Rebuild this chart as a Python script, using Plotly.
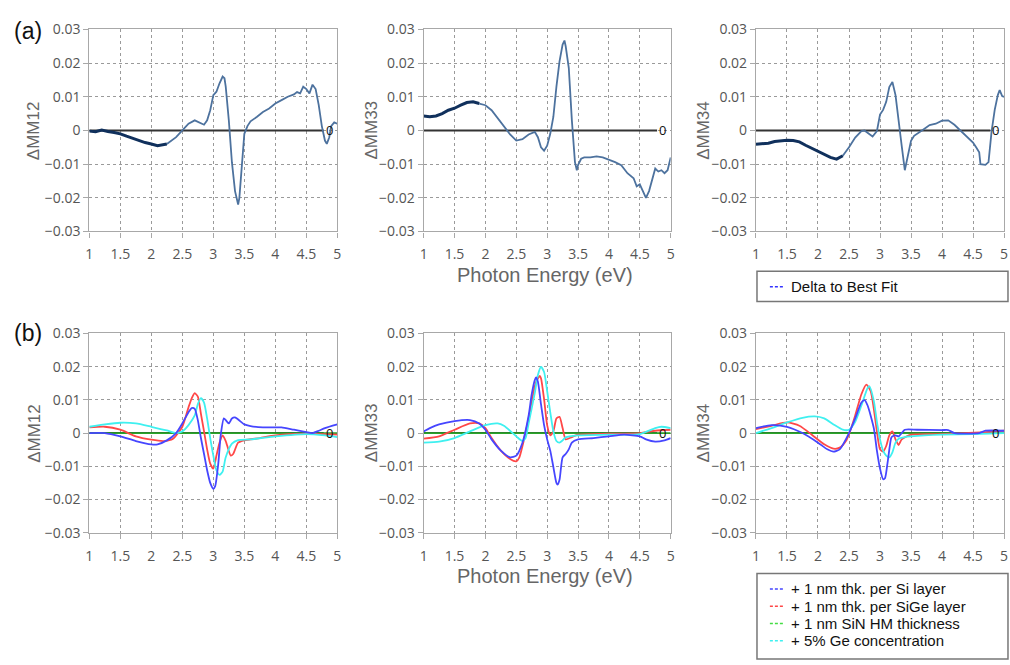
import plotly.graph_objects as go

# ---------------- data: (a) measured delta to best fit ----------------
E_A12 = [1.0, 1.1, 1.2, 1.25, 1.3, 1.4, 1.5, 1.6, 1.75, 1.9, 2.0, 2.1, 2.25, 2.4, 2.5, 2.6, 2.7, 2.8,
         2.85, 2.9, 2.95, 3.0, 3.05, 3.1, 3.15, 3.18, 3.2, 3.25, 3.3, 3.35, 3.4, 3.42, 3.45, 3.5,
         3.55, 3.6, 3.7, 3.8, 3.9, 4.0, 4.1, 4.2, 4.3, 4.35, 4.4, 4.45, 4.5, 4.55, 4.6, 4.65, 4.7,
         4.75, 4.8, 4.83, 4.87, 4.9, 4.95, 5.0]
MM12_A = [-0.0002, -0.0004, 0.0001, 0.0, -0.0003, -0.0006, -0.001, -0.0017, -0.0027, -0.0036, -0.004,
          -0.0045, -0.004, -0.002, 0.0, 0.002, 0.003, 0.0022, 0.0017, 0.003, 0.006, 0.0105, 0.0115,
          0.014, 0.016, 0.0155, 0.013, 0.003, -0.0095, -0.018, -0.022, -0.020, -0.012, -0.001,
          0.0013, 0.0027, 0.004, 0.0055, 0.0065, 0.008, 0.009, 0.010, 0.0107, 0.0114, 0.011, 0.013,
          0.0123, 0.011, 0.0136, 0.0123, 0.0075, 0.0013, -0.003, -0.004, -0.002, 0.0013, 0.0024, 0.002]

E_A33 = [1.0, 1.1, 1.2, 1.3, 1.4, 1.5, 1.6, 1.7, 1.8, 1.9, 2.0, 2.1, 2.2, 2.3, 2.4, 2.5, 2.6, 2.7, 2.8,
         2.85, 2.9, 2.95, 3.0, 3.05, 3.1, 3.15, 3.2, 3.25, 3.28, 3.3, 3.35, 3.4, 3.45, 3.48, 3.5, 3.55,
         3.6, 3.7, 3.8, 3.9, 4.0, 4.1, 4.2, 4.3, 4.4, 4.45, 4.5, 4.55, 4.6, 4.65, 4.7, 4.75, 4.8,
         4.85, 4.9, 4.95, 5.0]
MM33_A = [0.0043, 0.0041, 0.0043, 0.005, 0.006, 0.0066, 0.0075, 0.0083, 0.0085, 0.008, 0.0075, 0.006,
          0.0037, 0.0013, -0.0012, -0.003, -0.0026, -0.0012, -0.0004, -0.002, -0.005, -0.006, -0.0045,
          -0.001, 0.004, 0.013, 0.0205, 0.0255, 0.0267, 0.025, 0.0186, 0.003, -0.0094, -0.0118,
          -0.0103, -0.0084, -0.008, -0.008, -0.0077, -0.008, -0.0086, -0.0094, -0.0103, -0.0127,
          -0.0142, -0.0166, -0.016, -0.018, -0.020, -0.018, -0.0147, -0.0113, -0.0122, -0.0118,
          -0.0127, -0.0118, -0.008]

E_A34 = [1.0, 1.1, 1.2, 1.3, 1.4, 1.5, 1.6, 1.7, 1.8, 1.9, 2.0, 2.1, 2.2, 2.3, 2.4, 2.5, 2.6, 2.7, 2.75,
         2.8, 2.88, 2.95, 3.0, 3.05, 3.1, 3.15, 3.2, 3.25, 3.3, 3.35, 3.4, 3.45, 3.5, 3.55, 3.6, 3.7,
         3.8, 3.9, 4.0, 4.1, 4.2, 4.3, 4.4, 4.5, 4.55, 4.6, 4.62, 4.7, 4.75, 4.8, 4.85, 4.9, 4.93,
         4.97, 5.0]
MM34_A = [-0.0041, -0.004, -0.0038, -0.0033, -0.003, -0.0029, -0.003, -0.0034, -0.0044, -0.0053,
          -0.0063, -0.0073, -0.008, -0.0085, -0.0075, -0.005, -0.0021, -0.0002, 0.0, -0.0007, -0.0018,
          -0.0002, 0.0047, 0.0061, 0.0085, 0.0129, 0.0144, 0.0105, 0.0022, -0.0046, -0.0118, -0.0075,
          -0.0031, -0.0016, -0.0009, 0.0003, 0.0016, 0.002, 0.0029, 0.003, 0.0017, 0.0, -0.0018,
          -0.0036, -0.005, -0.0065, -0.010, -0.0102, -0.0094, -0.0002, 0.0061, 0.0105, 0.012, 0.0102,
          0.010]

# ---------------- data: (b) simulated sensitivities ----------------
E_B12_SI = [1.0, 1.25, 1.5, 1.75, 2.0, 2.1, 2.25, 2.4, 2.5, 2.6, 2.65, 2.7, 2.75, 2.8, 2.85, 2.9, 2.95,
            3.0, 3.03, 3.08, 3.12, 3.17, 3.2, 3.25, 3.3, 3.35, 3.4, 3.5, 3.6, 3.8, 4.0, 4.1, 4.3, 4.5,
            4.6, 4.7, 4.8, 5.0]
MM12_SI = [0.0, 0.0, -0.001, -0.0024, -0.0034, -0.0034, -0.0022, 0.0, 0.0029, 0.0063, 0.0075, 0.0073,
           0.0039, -0.0015, -0.0063, -0.0112, -0.015, -0.0168, -0.016, -0.0092, -0.0005, 0.0044,
           0.0039, 0.0029, 0.0044, 0.0047, 0.0041, 0.0026, 0.0021, 0.0017, 0.0017, 0.0017, 0.001,
           0.0003, 0.0, 0.0007, 0.0015, 0.0026]
E_B12_SIGE = [1.0, 1.25, 1.5, 1.75, 2.0, 2.2, 2.35, 2.5, 2.6, 2.65, 2.7, 2.75, 2.8, 2.85, 2.9, 2.95,
              3.0, 3.05, 3.1, 3.15, 3.2, 3.28, 3.32, 3.4, 3.5, 3.75, 4.0, 4.5, 5.0]
MM12_SIGE = [0.0017, 0.0019, 0.001, -0.001, -0.002, -0.0024, -0.0017, 0.0019, 0.0078, 0.0104, 0.012,
             0.011, 0.0058, 0.0005, -0.0049, -0.0092, -0.0107, -0.0068, -0.0029, -0.0007, -0.0024,
             -0.0068, -0.0063, -0.0029, -0.0022, -0.0015, -0.0007, -0.0002, -0.0005]
E_B12_GE = [1.0, 1.25, 1.5, 1.75, 2.0, 2.25, 2.4, 2.5, 2.6, 2.7, 2.75, 2.8, 2.85, 2.9, 2.95, 3.0,
            3.05, 3.1, 3.15, 3.2, 3.3, 3.4, 3.6, 4.0, 4.5, 4.8, 5.0]
MM12_GE = [0.0019, 0.0026, 0.0031, 0.0029, 0.0019, 0.0008, 0.0, 0.0005, 0.0024, 0.0053, 0.0087,
           0.0105, 0.0092, 0.0044, -0.0015, -0.0068, -0.0112, -0.0126, -0.0116, -0.0073, -0.0032,
           -0.0021, -0.0019, -0.001, -0.0003, -0.0007, -0.0012]

E_B33_SI = [1.0, 1.1, 1.25, 1.5, 1.75, 1.9, 2.0, 2.1, 2.25, 2.4, 2.5, 2.6, 2.7, 2.75, 2.8, 2.82, 2.85,
            2.9, 2.95, 3.0, 3.05, 3.1, 3.15, 3.17, 3.2, 3.25, 3.3, 3.35, 3.4, 3.5, 3.75, 4.0, 4.25,
            4.5, 4.6, 4.75, 4.9, 5.0]
MM33_SI = [0.0005, 0.0015, 0.0026, 0.0036, 0.0039, 0.0029, 0.001, -0.0019, -0.0053, -0.0073, -0.0068,
           -0.0029, 0.0053, 0.0117, 0.016, 0.0168, 0.0155, 0.0087, 0.0024, -0.0019, -0.0053, -0.0102,
           -0.015, -0.0155, -0.0141, -0.0073, -0.0063, -0.0049, -0.0029, -0.0019, -0.0015, -0.001,
           -0.0005, -0.001, -0.0019, -0.0026, -0.0022, -0.0015]
E_B33_SIGE = [1.0, 1.25, 1.5, 1.75, 1.9, 2.0, 2.1, 2.25, 2.4, 2.5, 2.55, 2.6, 2.7, 2.8, 2.85, 2.88,
              2.9, 2.95, 3.0, 3.05, 3.1, 3.15, 3.2, 3.25, 3.3, 3.4, 3.5, 4.0, 4.5, 4.75, 5.0]
MM33_SIGE = [-0.0017, -0.001, 0.001, 0.0029, 0.0029, 0.0015, -0.0015, -0.0053, -0.0078, -0.0085,
             -0.0073, -0.0039, 0.0044, 0.0141, 0.0165, 0.0172, 0.0165, 0.0102, 0.0024, -0.0007,
             0.0005, 0.0044, 0.0049, 0.0015, -0.0019, -0.0012, -0.0005, -0.0002, 0.0, 0.0007, 0.001]
E_B33_GE = [1.0, 1.25, 1.5, 1.75, 2.0, 2.2, 2.3, 2.5, 2.6, 2.65, 2.7, 2.8, 2.85, 2.9, 2.95, 3.0, 3.05,
            3.1, 3.15, 3.2, 3.25, 3.3, 3.5, 4.0, 4.5, 4.75, 4.85, 5.0]
MM33_GE = [-0.0029, -0.0026, -0.0015, 0.0005, 0.0024, 0.0029, 0.0022, -0.001, -0.0024, -0.0015,
           0.0029, 0.0121, 0.0175, 0.0199, 0.0184, 0.0126, 0.0063, 0.0005, -0.0024, -0.0029, -0.0022,
           -0.0013, -0.0007, -0.0005, -0.0003, 0.0015, 0.0019, 0.0015]

E_B34_SI = [1.0, 1.25, 1.5, 1.75, 2.0, 2.15, 2.25, 2.35, 2.5, 2.6, 2.7, 2.75, 2.8, 2.9, 2.95, 3.0,
            3.05, 3.08, 3.12, 3.18, 3.2, 3.25, 3.3, 3.35, 3.4, 3.6, 4.0, 4.1, 4.2, 4.6, 4.7, 5.0]
MM34_SI = [0.0015, 0.0024, 0.0019, 0.0, -0.0029, -0.0049, -0.0056, -0.0049, 0.0, 0.0044, 0.0092,
           0.0099, 0.0083, 0.0015, -0.0053, -0.0107, -0.0139, -0.0136, -0.0092, -0.0015, -0.001,
           -0.0007, -0.001, 0.0, 0.001, 0.001, 0.0009, 0.0009, 0.0, 0.0, 0.0007, 0.0007]
E_B34_SIGE = [1.0, 1.25, 1.5, 1.7, 1.9, 2.1, 2.25, 2.35, 2.45, 2.5, 2.6, 2.7, 2.78, 2.85, 2.9, 2.95,
              3.0, 3.05, 3.1, 3.15, 3.2, 3.25, 3.3, 3.35, 3.5, 4.0, 4.7, 5.0]
MM34_SIGE = [0.0012, 0.0022, 0.0032, 0.0022, -0.0005, -0.0034, -0.0047, -0.0044, -0.0024, -0.0003,
             0.0053, 0.0117, 0.0146, 0.0126, 0.0073, 0.0005, -0.0049, -0.0056, -0.0039, -0.0007,
             0.0005, -0.0019, -0.0036, -0.0019, -0.0005, -0.0003, 0.0003, 0.0007]
E_B34_GE = [1.0, 1.25, 1.5, 1.75, 1.95, 2.1, 2.25, 2.4, 2.5, 2.6, 2.7, 2.8, 2.83, 2.9, 2.95, 3.0, 3.05,
            3.1, 3.15, 3.2, 3.25, 3.3, 3.4, 3.5, 4.0, 4.5, 5.0]
MM34_GE = [0.0, 0.0015, 0.0032, 0.0046, 0.005, 0.0044, 0.0026, 0.001, 0.001, 0.0034, 0.0083, 0.0136,
           0.0141, 0.0097, 0.0034, -0.0019, -0.0053, -0.0068, -0.0073, -0.0058, -0.0029, -0.0017,
           -0.0012, -0.001, -0.0005, -0.0003, 0.0]

# SiN hard-mask thickness has no visible effect
E_FLAT = [1.0, 2.0, 3.0, 4.0, 5.0]
MM_FLAT = [0.0, 0.0, 0.0, 0.0, 0.0]

# zero reference line and its label position
E_ZERO = [1.0, 4.78]
ZERO_LABEL_E = 4.87

X_TICKS = [1, 1.5, 2, 2.5, 3, 3.5, 4, 4.5, 5]
X_TICK_TEXT = ["1", "1.5", "2", "2.5", "3", "3.5", "4", "4.5", "5"]
Y_TICKS = [-0.03, -0.02, -0.01, 0, 0.01, 0.02, 0.03]
Y_TICK_TEXT = ["\u22120.03", "\u22120.02", "\u22120.01", "0", "0.01", "0.02", "0.03"]
Y_TITLES = ["ΔMM12", "ΔMM33", "ΔMM34"]

LEGEND_A = ["Delta to Best Fit"]
LEGEND_B = ["+ 1 nm thk. per Si layer", "+ 1 nm thk. per SiGe layer",
            "+ 1 nm SiN HM thickness", "+ 5% Ge concentration"]

# ---------------- styling ----------------
W, H = 1010, 665
COLS = [(86, 336), (423, 672), (758, 1008)]
ROWS = [(20, 228), (333, 538)]
NAVY = "#10305c"
STEEL = "#4d729e"
BLUE, RED, GREEN, CYAN = "#4646ff", "#ff4747", "#2aa52a", "#3ff0f0"
GRID = "#9a9a9a"
TICK_FONT = dict(family="Open Sans", size=14, color="#555555")
LABEL_FONT = dict(family="Liberation Sans", size=17, color="#666666")


def px_x(v):
    return v / W


def px_y(v):
    return 1 - v / H


fig = go.Figure()

layout_axes = {}
for r, (top, bottom) in enumerate(ROWS):
    for c, (left, right) in enumerate(COLS):
        k = r * 3 + c + 1
        sx = "" if k == 1 else str(k)
        layout_axes["xaxis" + sx] = dict(
            domain=[px_x(left), px_x(right)], anchor="y" + sx, range=[1, 5],
            tickvals=X_TICKS, ticktext=X_TICK_TEXT, showgrid=True, gridcolor=GRID,
            griddash="dot", gridwidth=1,
            showline=True, mirror=True, linecolor="#a8a8a8", linewidth=1.2,
            ticks="outside", ticklen=5, tickcolor="#a8a8a8", zeroline=False,
            tickfont=TICK_FONT, ticklabelstandoff=5,
        )
        layout_axes["yaxis" + sx] = dict(
            domain=[px_y(bottom), px_y(top)], anchor="x" + sx, range=[-0.03, 0.03],
            tickvals=Y_TICKS, ticktext=Y_TICK_TEXT, showgrid=True, gridcolor=GRID,
            griddash="dot", gridwidth=1,
            showline=True, mirror=True, linecolor="#a8a8a8", linewidth=1.2,
            ticks="outside", ticklen=5, tickcolor="#a8a8a8", zeroline=False,
            tickfont=TICK_FONT,
        )


def axref(k):
    s = "" if k == 1 else str(k)
    return "x" + s, "y" + s


def add_zero(k):
    xa, ya = axref(k)
    fig.add_trace(go.Scatter(x=E_ZERO, y=[0, 0], mode="lines", xaxis=xa, yaxis=ya,
                             line=dict(color="#333333", width=2), hoverinfo="skip",
                             showlegend=False))
    fig.add_annotation(x=ZERO_LABEL_E, y=0, xref=xa, yref=ya, text="0", showarrow=False,
                       font=dict(family="Open Sans", size=13, color="#111111"),
                       xanchor="center", yanchor="middle")


# (a) measured differences: low-energy part is dense/noisy, drawn darker
TOP = [(E_A12, MM12_A, 2.3), (E_A33, MM33_A, 1.95), (E_A34, MM34_A, 2.4)]
for c, (ex, ey, split) in enumerate(TOP):
    k = c + 1
    xa, ya = axref(k)
    add_zero(k)
    lo = [i for i, e in enumerate(ex) if e <= split]
    hi = [i for i, e in enumerate(ex) if e >= ex[lo[-1]]]
    fig.add_trace(go.Scatter(x=[ex[i] for i in hi], y=[ey[i] for i in hi], mode="lines",
                             xaxis=xa, yaxis=ya, line=dict(color=STEEL, width=1.8),
                             showlegend=False))
    fig.add_trace(go.Scatter(x=[ex[i] for i in lo], y=[ey[i] for i in lo], mode="lines",
                             xaxis=xa, yaxis=ya, line=dict(color=NAVY, width=3),
                             showlegend=False))

# (b) simulated sensitivities
BOTTOM = [
    [(E_B12_SI, MM12_SI), (E_B12_SIGE, MM12_SIGE), (E_FLAT, MM_FLAT), (E_B12_GE, MM12_GE)],
    [(E_B33_SI, MM33_SI), (E_B33_SIGE, MM33_SIGE), (E_FLAT, MM_FLAT), (E_B33_GE, MM33_GE)],
    [(E_B34_SI, MM34_SI), (E_B34_SIGE, MM34_SIGE), (E_FLAT, MM_FLAT), (E_B34_GE, MM34_GE)],
]
SERIES_COLORS = [BLUE, RED, GREEN, CYAN]
DRAW_ORDER = [2, 1, 3, 0]
for c, series in enumerate(BOTTOM):
    k = c + 4
    xa, ya = axref(k)
    add_zero(k)
    for s in DRAW_ORDER:
        ex, ey = series[s]
        fig.add_trace(go.Scatter(x=ex, y=ey, mode="lines", xaxis=xa, yaxis=ya,
                                 line=dict(color=SERIES_COLORS[s], width=1.8, shape="spline",
                                           smoothing=0.6),
                                 name=LEGEND_B[s], showlegend=False))

# y-axis titles, x-axis titles and panel letters
YT_X = [30, 370, 705]
for r, (top, bottom) in enumerate(ROWS):
    for c in range(3):
        fig.add_annotation(x=px_x(YT_X[c]), y=px_y((top + bottom) / 2), xref="paper",
                           yref="paper", text=Y_TITLES[c], textangle=-90, showarrow=False,
                           font=LABEL_FONT, xanchor="center", yanchor="middle")
for yc in (273, 583):
    fig.add_annotation(x=px_x(545), y=px_y(yc), xref="paper", yref="paper",
                       text="Photon Energy (eV)", showarrow=False,
                       font=dict(family="Liberation Sans", size=20, color="#666666"),
                       xanchor="center", yanchor="middle")
for txt, yc in (("(a)", 22), ("(b)", 332)):
    fig.add_annotation(x=px_x(24), y=px_y(yc), xref="paper", yref="paper", text=txt,
                       showarrow=False,
                       font=dict(family="Liberation Sans", size=23, color="#111111"),
                       xanchor="center", yanchor="middle")

# legend boxes with dashed samples
shapes = []


def legend_box(x0, y0, x1, y1, entries, colors, y_first, step):
    shapes.append(dict(type="rect", xref="paper", yref="paper", x0=px_x(x0), x1=px_x(x1),
                       y0=px_y(y1), y1=px_y(y0), line=dict(color="#777777", width=1.5),
                       fillcolor="white", layer="above"))
    for i, (txt, col) in enumerate(zip(entries, colors)):
        yc = y_first + i * step
        shapes.append(dict(type="line", xref="paper", yref="paper", x0=px_x(772), x1=px_x(787),
                           y0=px_y(yc), y1=px_y(yc), line=dict(color=col, width=1.5,
                                                                 dash="3px,2px")))
        fig.add_annotation(x=px_x(791), y=px_y(yc), xref="paper", yref="paper", text=txt,
                           showarrow=False, xanchor="left", yanchor="middle",
                           font=dict(family="Liberation Sans", size=15, color="#111111"))


legend_box(759, 269, 1012, 300, LEGEND_A, ["#3333ff"], 285, 18)
legend_box(759, 580, 1012, 668, LEGEND_B, [BLUE, RED, "#44dd44", CYAN], 596, 17.8)

fig.update_layout(
    width=W, height=H, margin=dict(l=0, r=0, t=0, b=0),
    paper_bgcolor="white", plot_bgcolor="white", showlegend=False,
    shapes=shapes, **layout_axes,
)

fig.write_html("out.html")
